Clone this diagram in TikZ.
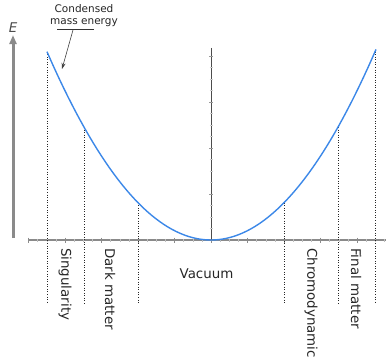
\documentclass[tikz,border=0pt]{standalone}
\usepackage{fontspec}
\setmainfont{DejaVu Sans}
\usetikzlibrary{arrows.meta, positioning, calc}

\definecolor{curveblue}{HTML}{3C88E8}
\definecolor{axisgray}{HTML}{8A8A8A}

\begin{document}
\begin{tikzpicture}[x=1pt,y=-1pt,>=Latex,
    lbl/.style={font=\fontsize{13.4}{15}\selectfont, inner sep=0pt, text=black!85},
    vlbl/.style={lbl, rotate=-90, anchor=west},
    guide/.style={dotted, black!85, line width=0.55pt}]
    \useasboundingbox (0,0) rectangle (390,363);

    % Ejes
    \draw[axisgray, line width=1.8pt] (29,240) -- (386,240);
    \foreach \t in {0,...,39} \draw[black!25, line width=0.5pt] ({28.5+9.125*\t},238.5) -- ++(0,3);
    \foreach \t in {0,...,9} \draw[black!45, line width=0.7pt] ({28.5+36.5*\t},237.5) -- ++(0,5);
    \draw[black!70, line width=1pt] (211,48) -- (211,240);
    \foreach \t in {1,...,16} \draw[black!20, line width=0.5pt] (209.5,{240-11.5*\t}) -- ++(3,0);
    \foreach \t in {1,...,4} \draw[black!40, line width=0.6pt] (209,{240-46*\t}) -- ++(4,0);

    % Flecha de energia
    \node[lbl, font=\fontsize{13.4}{15}\selectfont\itshape, text=black!70] (energy) at (13,28) {E};
    \coordinate (ebase) at (13,238);
    \draw[-{Triangle[length=9pt,width=7pt]}, axisgray, line width=3pt] (ebase) -- ($(energy.south)+(0,2)$);

    % Curva y guias
    \foreach \dx in {-164,-127,-73,73,127,164}
        \draw[guide] ({211+\dx},{240-0.7*(\dx/10)*(\dx/10)}) -- ({211+\dx},304);
    \draw[curveblue, line width=1.4pt, domain=-164:165, samples=80] plot ({211+\x},{240-0.7*(\x/10)*(\x/10)});

    % Etiquetas
    \node[vlbl] (singular) at (65,248) {Singularity};
    \node[vlbl] (dark) at (110,248) {Dark matter};
    \node[lbl] (vacuum) at (206.5,274) {Vacuum};
    \node[vlbl] (chromo) at (311,248) {Chromodynamic};
    \node[vlbl] (final) at (356,248) {Final matter};

    % Nota
    \node[lbl, font=\fontsize{10.5}{12}\selectfont, align=center] (note) at (84,16) {Condensed\\mass energy};
    \draw[black!80, line width=0.6pt] (57,29) -- (94,29);
    \coordinate (tip) at (62,69);
    \draw[-{Stealth[length=6pt,width=4pt]}, black!75, line width=0.6pt] (73,30) -- (tip);
\end{tikzpicture}
\end{document}
